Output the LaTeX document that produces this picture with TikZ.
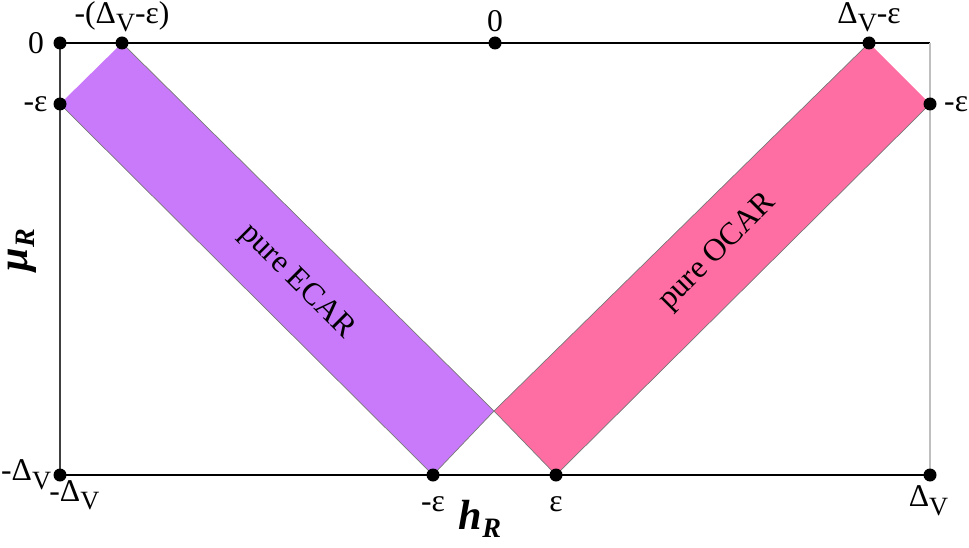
\documentclass[tikz,border=0pt]{standalone}
\usepackage{fontspec}
\setmainfont{Liberation Serif}
\definecolor{ecarfill}{RGB}{200,122,250}
\definecolor{ocarfill}{RGB}{255,110,162}
\definecolor{bandedge}{RGB}{120,120,120}
\usetikzlibrary{positioning}
\newcommand{\dv}{Δ\raisebox{-0.6ex}{\fontsize{15}{17}\selectfont V}}

\begin{document}
\begin{tikzpicture}[
    x=0.02cm, y=-0.02cm,
    dot/.style={circle, fill=black, inner sep=0pt, minimum size=13*0.02cm},
    ticklabel/.style={font=\fontsize{18}{20}\selectfont, inner sep=1pt},
    axislabel/.style={font=\fontsize{24}{26}\selectfont\bfseries\itshape, inner sep=0pt},
    bandlabel/.style={font=\fontsize{18}{20}\selectfont, inner sep=0pt},
    band/.style={draw=bandedge, line width=0.4pt}
]
\useasboundingbox (0,0) rectangle (969,547);

% corners of the frame
\coordinate (tl) at (60,43);
\coordinate (tr) at (930,43);
\coordinate (bl) at (60,475);
\coordinate (br) at (930,475);

% the two bands
\fill[ecarfill] (122,43) -- (60,104) -- (433,475) -- (494,411) -- cycle;
\draw[band] (122,43) -- (494,411) -- (433,475);
\draw[band] (60,104) -- (433,475);
\fill[ocarfill] (869,43) -- (930,104) -- (556,475) -- (494,411) -- cycle;
\draw[band] (869,43) -- (494,411) -- (556,475);
\draw[band] (930,104) -- (556,475);

% frame
\draw[black, line width=0.6pt] (tl) -- (tr);
\draw[black, line width=0.6pt] (bl) -- (br);
\draw[black!75, line width=0.6pt] (tl) -- (bl);
\draw[black!25, line width=0.6pt] (tr) -- (br);

% marked points
\node[dot] (zeroL) at (tl) {};
\node[dot] (mdeL) at (122,43) {};
\node[dot] (zeroT) at (495,43) {};
\node[dot] (dvT) at (869,43) {};
\node[dot] (meL) at (60,104) {};
\node[dot] (meR) at (930,104) {};
\node[dot] (mdvB) at (bl) {};
\node[dot] (meB) at (433,475) {};
\node[dot] (eB) at (556,475) {};
\node[dot] (dvB) at (br) {};

% tick labels
\node[ticklabel, left=4pt of zeroL] {0};
\node[ticklabel, above=1pt of mdeL] {-(\dv-ε)};
\node[ticklabel, above=1pt of zeroT] {0};
\node[ticklabel, above=1pt of dvT] {\dv-ε};
\node[ticklabel, left=2pt of meL] {-ε};
\node[ticklabel, right=3pt of meR] {-ε};
\node[ticklabel, left=0pt of mdvB] {-\dv};
\node[ticklabel, below right=-1pt and -10pt of mdvB] {-\dv};
\node[ticklabel, below=7pt of meB] {-ε};
\node[ticklabel, below=7pt of eB] {ε};
\node[ticklabel, below right=2pt and -16pt of dvB] {\dv};

% axis names
\node[axislabel, rotate=90] (muR) at (22,250) {μ\raisebox{-0.4ex}{\fontsize{16}{18}\selectfont R}};
\node[axislabel] (hR) at (480,519) {h\raisebox{-0.4ex}{\fontsize{16}{18}\selectfont R}};

% band names
\node[bandlabel, rotate=-45] (ecar) at (297,282) {pure ECAR};
\node[bandlabel, rotate=45] (ocar) at (718,252) {pure OCAR};
\end{tikzpicture}
\end{document}
